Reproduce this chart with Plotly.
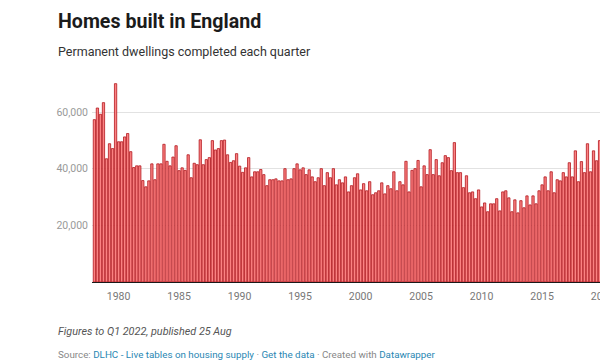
import plotly.graph_objects as go

# Quarterly permanent dwellings completed (thousands), 1978 Q1 onwards (visible portion)
start_year = 1978
completions_k = [
    57.3, 61.4, 59.2, 63.3,   # 1978
    43.5, 48.8, 47.1, 70.0,   # 1979
    49.5, 49.5, 51.2, 52.4,   # 1980
    46.0, 40.4, 41.0, 41.0,   # 1981
    35.8, 33.6, 35.7, 41.7,   # 1982
    36.1, 41.7, 41.7, 48.6,   # 1983
    42.6, 41.0, 44.1, 48.1,   # 1984
    39.3, 40.3, 39.4, 44.9,   # 1985
    36.8, 41.9, 41.4, 50.2,   # 1986
    41.4, 43.2, 43.9, 49.9,   # 1987
    46.6, 47.1, 49.9, 50.1,   # 1988
    44.9, 42.2, 42.8, 45.3,   # 1989
    40.9, 38.7, 40.3, 43.9,   # 1990
    37.1, 38.9, 38.9, 39.7,   # 1991
    37.9, 34.0, 36.1, 36.1,   # 1992
    36.4, 35.7, 35.7, 40.0,   # 1993
    36.1, 36.4, 40.0, 41.7,   # 1994
    39.6, 40.3, 37.9, 39.6,   # 1995
    37.1, 35.4, 36.8, 40.0,   # 1996
    34.0, 38.6, 36.8, 40.0,   # 1997
    34.3, 36.1, 35.0, 37.1,   # 1998
    31.8, 34.0, 36.8, 38.2,   # 1999
    32.5, 34.7, 32.2, 35.4,   # 2000
    30.8, 31.5, 32.2, 35.0,   # 2001
    31.1, 34.0, 32.9, 38.9,   # 2002
    32.2, 35.4, 34.3, 42.6,   # 2003
    31.8, 39.4, 40.0, 42.9,   # 2004
    33.6, 41.0, 37.9, 46.7,   # 2005
    37.9, 43.2, 37.5, 42.1,   # 2006
    44.6, 43.9, 39.3, 49.2,   # 2007
    38.6, 38.6, 33.3, 37.5,   # 2008
    31.5, 31.8, 29.4, 32.5,   # 2009
    26.5, 27.9, 24.8, 27.6,   # 2010
    27.6, 29.4, 25.1, 31.8,   # 2011
    32.2, 29.7, 24.8, 29.0,   # 2012
    24.4, 28.7, 26.2, 30.4,   # 2013
    27.2, 30.4, 27.6, 32.2,   # 2014
    34.3, 37.1, 32.2, 38.9,   # 2015
    31.5, 36.1, 35.7, 38.6,   # 2016
    37.1, 42.1, 37.1, 46.3,   # 2017
    35.4, 42.5, 38.6, 48.8,   # 2018
    38.9, 46.3, 42.8, 49.9,   # 2019
    36.4, 16.6,               # 2020
]
completions = [v * 1000 for v in completions_k]
quarter_pos = [start_year + i / 4 for i in range(len(completions))]

year_ticks = [1980, 1985, 1990, 1995, 2000, 2005, 2010, 2015, 2020]
y_ticks = [20000, 40000, 60000]
y_tick_labels = ["20,000", "40,000", "60,000"]

title = "Homes built in England"
subtitle = "Permanent dwellings completed each quarter"
note = "Figures to Q1 2022, published 25 Aug"

# page offset of the figure (default body margin)
OFF = 8
W, H = 608, 360
L = 92 - OFF
T = 80 - OFF
BOTTOM = 282 - OFF
PW = W - L
PH = BOTTOM - T
PX_PER_YEAR = 12.1

x0 = 1980 - (118.6 - OFF - L) / PX_PER_YEAR
x1 = x0 + PW / PX_PER_YEAR
y_top = PH / 170 * 60000


def px(page_x):
    return (page_x - OFF - L) / PW


def py(page_y):
    return (BOTTOM - (page_y - OFF)) / PH


fig = go.Figure(
    go.Bar(
        x=quarter_pos,
        y=completions,
        width=0.19,
        marker=dict(color="#fb8282", line=dict(color="#b3181e", width=0.8)),
        hoverinfo="x+y",
    )
)

FONT = "Roboto, 'Noto Sans', Arial, sans-serif"
link = "#2a87b3"
grey = "#888888"

annotations = [
    dict(text="<b>" + title + "</b>", x=px(56), y=py(22), xanchor="left", yanchor="middle",
         font=dict(family=FONT, size=19.6, color="#1b1b1b")),
    dict(text=subtitle, x=px(56), y=py(51.5), xanchor="left", yanchor="middle",
         font=dict(family=FONT, size=12.5, color="#333333")),
    dict(text="<i>" + note + "</i>", x=px(56), y=py(331), xanchor="left", yanchor="middle",
         font=dict(family=FONT, size=10.8, color="#555555")),
    dict(text=("Source: <span style='color:%s'>DLHC - Live tables on housing supply</span>"
               " · <span style='color:%s'>Get the data</span> · Created with "
               "<span style='color:%s'>Datawrapper</span>") % (link, link, link),
         x=px(56), y=py(354.5), xanchor="left", yanchor="middle",
         font=dict(family=FONT, size=9.8, color=grey)),
]
for a in annotations:
    a.update(xref="paper", yref="paper", showarrow=False, align="left")

fig.update_layout(
    width=W, height=H,
    margin=dict(l=L, r=0, t=T, b=H - BOTTOM, pad=0),
    paper_bgcolor="white", plot_bgcolor="white",
    showlegend=False,
    annotations=annotations,
    font=dict(family=FONT),
    xaxis=dict(
        range=[x0, x1], tickvals=year_ticks, ticktext=[str(y) for y in year_ticks],
        ticks="", showgrid=False, zeroline=False,
        showline=True, linecolor="#1a1a1a", linewidth=1.3,
        tickfont=dict(family=FONT, size=10.5, color="#777777"),
        ticklabelstandoff=4,
        ticklabeloverflow="allow", fixedrange=True,
    ),
    yaxis=dict(
        range=[0, y_top], tickvals=y_ticks, ticktext=y_tick_labels,
        ticks="", showgrid=True, gridcolor="#e2e2e2", gridwidth=1,
        zeroline=False, showline=False,
        tickfont=dict(family=FONT, size=10.5, color="#999999"),
        ticklabelstandoff=3,
        fixedrange=True,
    ),
)

fig.write_html("out.html")
